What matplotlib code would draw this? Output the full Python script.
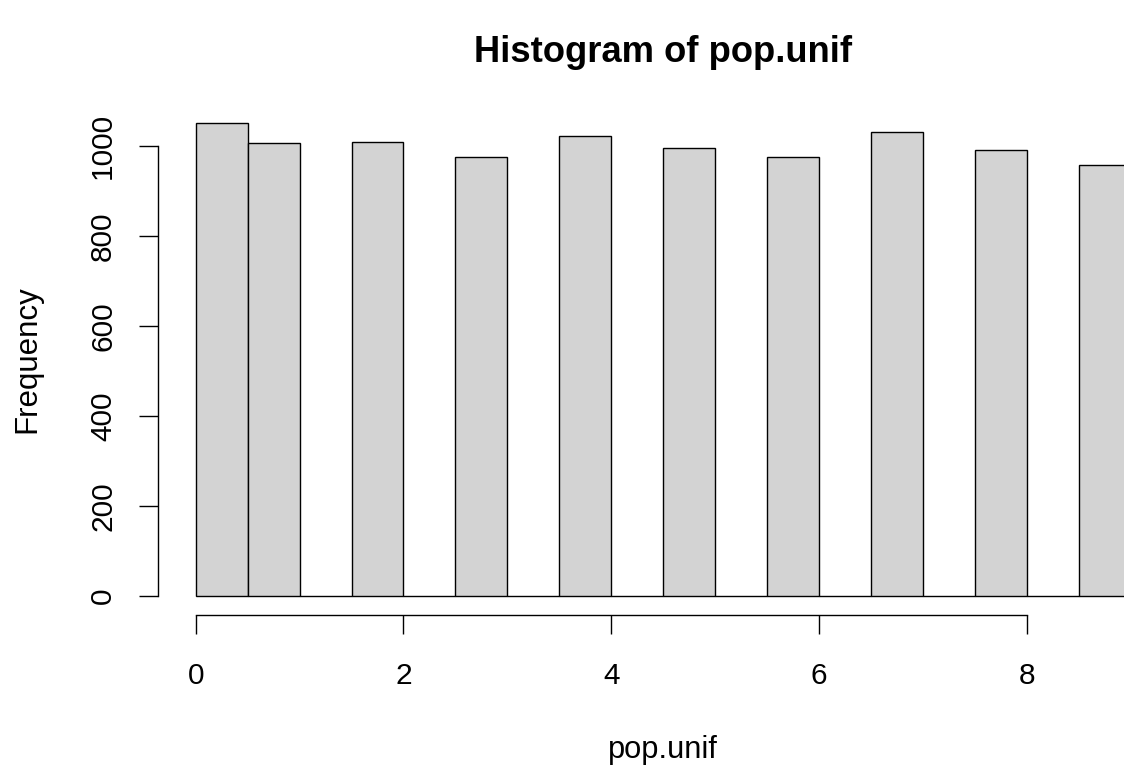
import numpy as np
import matplotlib
matplotlib.use("Agg")
import matplotlib.pyplot as plt

# observed integer values and how often each one came up
values = [0, 1, 2, 3, 4, 5, 6, 7, 8, 9]
counts = [1050, 1007, 1008, 975, 1022, 995, 975, 1030, 990, 958]
breaks = np.arange(0, 9.5, 0.5)
xticks = [0, 2, 4, 6, 8]
yticks = [0, 200, 400, 600, 800, 1000]

# R style right-closed bins (first bin includes lowest)
bin_counts = np.zeros(len(breaks) - 1)
for v, c in zip(values, counts):
    idx = max(int(np.ceil(v / 0.5)) - 1, 0)
    bin_counts[idx] += c

plt.rcParams['font.family'] = ['Liberation Sans', 'DejaVu Sans']
W, H = 1124, 767
fig = plt.figure(figsize=(W / 100, H / 100), dpi=100)

# plot region in pixels (R usr extended 4%)
left, right, top, bottom = 158.3, 1168.0, 104.3, 614.9
ax = fig.add_axes([left / W, (H - bottom) / H, (right - left) / W, (bottom - top) / H])

ax.bar(breaks[:-1], bin_counts, width=0.5, align='edge',
       color='#D3D3D3', edgecolor='black', linewidth=1.0)

xr = breaks[-1] - breaks[0]
ax.set_xlim(breaks[0] - 0.04 * xr, breaks[-1] + 0.04 * xr)
ymax = bin_counts.max()
ax.set_ylim(-0.04 * ymax, ymax * 1.04)

for s in ['top', 'right']:
    ax.spines[s].set_visible(False)
ax.spines['bottom'].set_bounds(xticks[0], xticks[-1])
ax.spines['left'].set_bounds(yticks[0], yticks[-1])
for s in ['bottom', 'left']:
    ax.spines[s].set_linewidth(1.0)

ax.set_xticks(xticks)
ax.set_yticks(yticks)
ax.set_xticklabels([str(t) for t in xticks])
ax.set_yticklabels([str(t) for t in yticks], rotation=90, va='center')
ax.tick_params(axis='both', direction='out', length=13.7, width=1.0,
               labelsize=21.5, color='black')
ax.tick_params(axis='x', pad=20)
ax.tick_params(axis='y', pad=16)

fig.text(663 / W, 1 - 52 / H, 'Histogram of pop.unif', ha='center', va='center',
         fontsize=26.2, fontweight='bold')
fig.text(663 / W, 1 - 750 / H, 'pop.unif', ha='center', va='center', fontsize=22.2)
fig.text(27 / W, 1 - 359.6 / H, 'Frequency', ha='center', va='center',
         rotation=90, fontsize=22.5)

fig.savefig('out.png', dpi=100)
